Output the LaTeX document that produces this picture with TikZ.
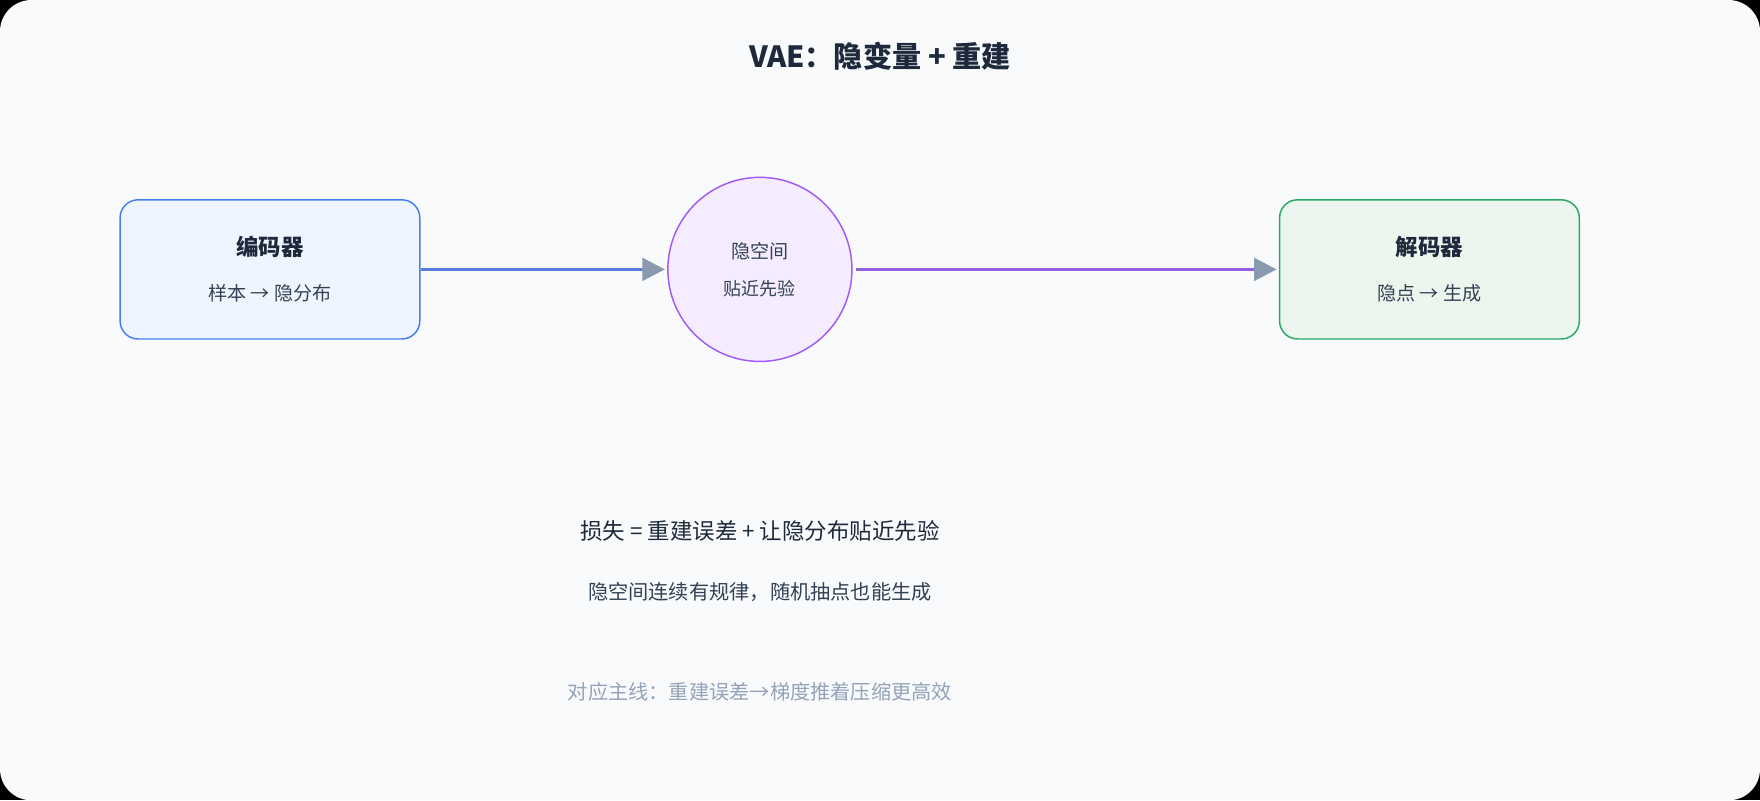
\documentclass[tikz,border=0pt]{standalone}
\usepackage{fontspec}
\setmainfont{Noto Sans CJK SC}
\usetikzlibrary{arrows.meta}
\definecolor{bg}{HTML}{F8FAFC}
\definecolor{ink}{HTML}{1E293B}
\definecolor{sub}{HTML}{334155}
\definecolor{gr}{HTML}{94A3B8}
\definecolor{ah}{HTML}{8A99AD}
\tikzset{
 box/.style={draw, line width=1.3pt, rounded corners=16pt, minimum width=267pt, minimum height=124pt},
 ttl/.style={font=\fontsize{20}{24}\selectfont\bfseries, text=ink},
 lbl/.style={font=\fontsize{17}{20}\selectfont, text=sub},
 conn/.style={line width=3pt, -{Triangle[length=20pt,width=20pt,color=ah]}, shorten >=2pt}
}
\begin{document}
\begin{tikzpicture}[x=1pt,y=-1pt]
\fill[black] (0,0) rectangle (1568,713);
\useasboundingbox (0,0) rectangle (1568,713);
\fill[bg] (0,0) [rounded corners=28pt] rectangle (1568,713);
\node[font=\fontsize{26}{30}\selectfont\bfseries, text=ink] (title) at (784,50) {VAE：隐变量 + 重建};
\node[box, draw=blue!70!cyan!80!black, draw={rgb,255:red,70;green,125;blue,240}, fill={rgb,255:red,239;green,245;blue,255}] (enc) at (240.5,240) {};
\node[ttl] at (240.5,220) {编码器};
\node[lbl] at (240.5,261) {样本 → 隐分布};
\node[circle, draw={rgb,255:red,160;green,90;blue,245}, line width=1.3pt, fill={rgb,255:red,245;green,236;blue,255}, minimum size=164pt, inner sep=0] (lat) at (677,240) {};
\node[lbl] at (677,224) {隐空间};
\node[lbl, font=\fontsize{16}{20}\selectfont] at (677,257) {贴近先验};
\node[box, draw={rgb,255:red,40;green,170;blue,100}, fill={rgb,255:red,236;green,246;blue,238}] (dec) at (1273.5,240) {};
\node[ttl] at (1273.5,220) {解码器};
\node[lbl] at (1273.5,261) {隐点 → 生成};
\draw[conn, draw={rgb,255:red,85;green,125;blue,220}] (enc.east) -- (lat.west);
\draw[conn, draw={rgb,255:red,150;green,95;blue,225}] ([xshift=3pt]lat.east) -- (dec.west);
\node[font=\fontsize{20}{24}\selectfont, text=ink] (loss) at (677,473) {损失 = 重建误差 + 让隐分布贴近先验};
\node[font=\fontsize{18}{22}\selectfont, text=sub] (note) at (677,527) {隐空间连续有规律，随机抽点也能生成};
\node[font=\fontsize{18}{22}\selectfont, text=gr] (main) at (677,616) {对应主线：重建误差→梯度推着压缩更高效};
\end{tikzpicture}
\end{document}
